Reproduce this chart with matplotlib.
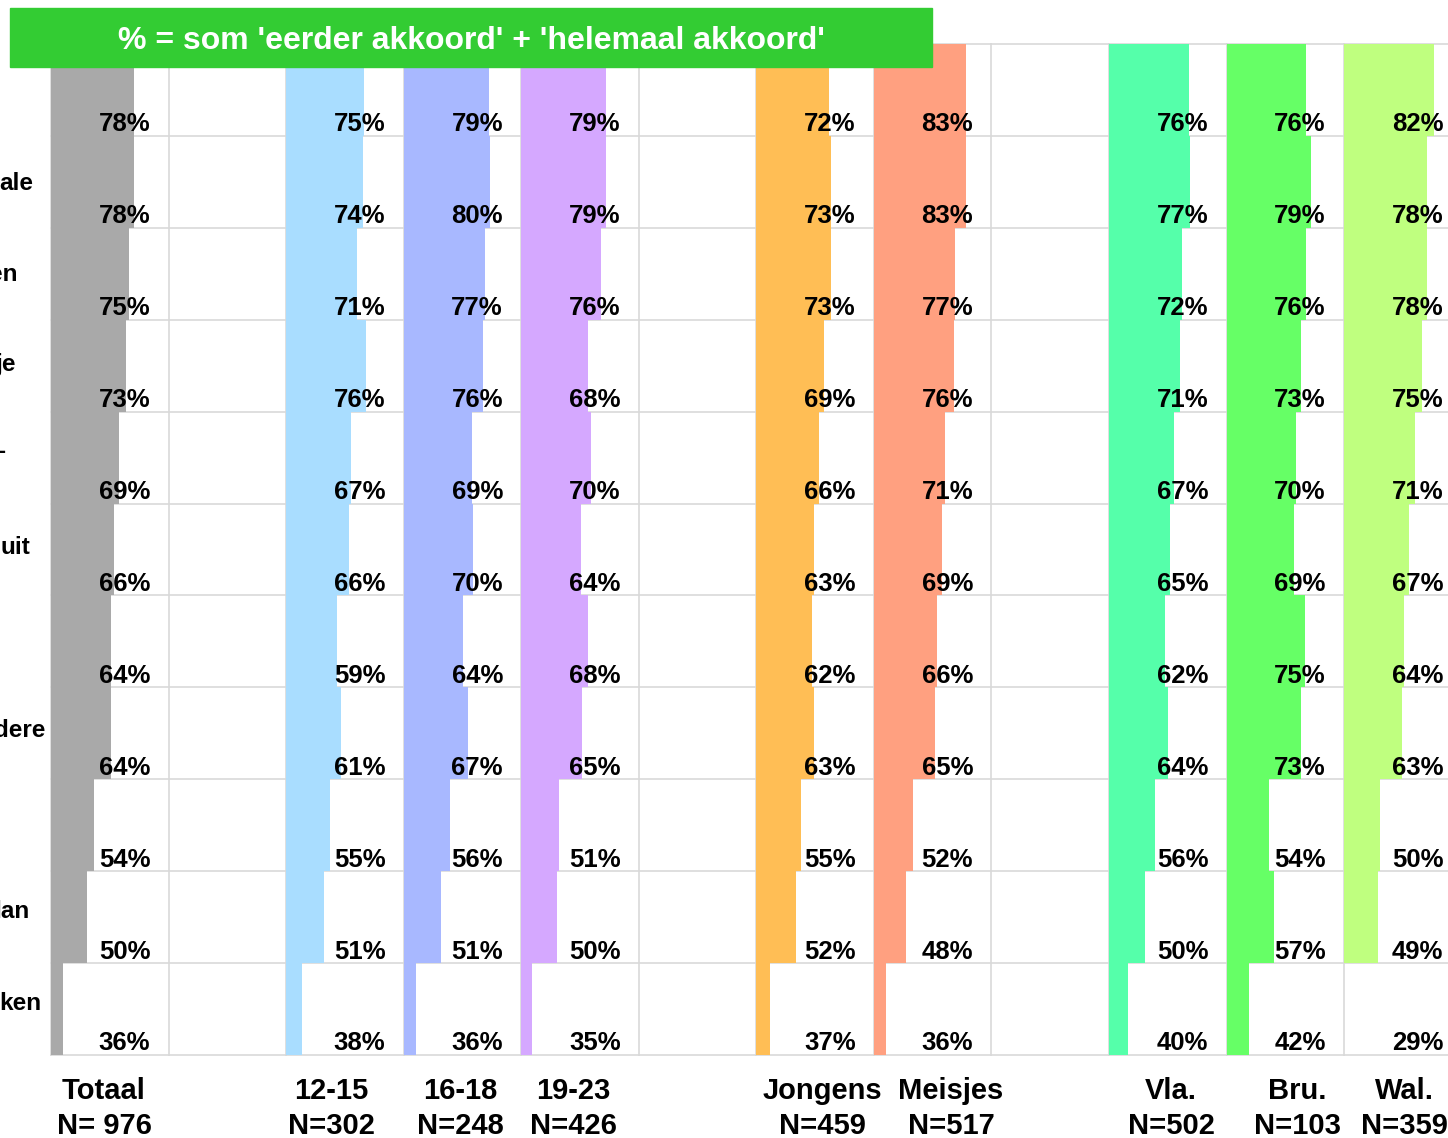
import matplotlib
matplotlib.use("Agg")
import matplotlib.pyplot as plt
from matplotlib.patches import Rectangle

plt.rcParams['font.family'] = ['Liberation Sans', 'DejaVu Sans']

# data: share "eerder akkoord" + "helemaal akkoord" per row (11 statements)
totaal = [78, 78, 75, 73, 69, 66, 64, 64, 54, 50, 36]
age_12_15 = [75, 74, 71, 76, 67, 66, 59, 61, 55, 51, 38]
age_16_18 = [79, 80, 77, 76, 69, 70, 64, 67, 56, 51, 36]
age_19_23 = [79, 79, 76, 68, 70, 64, 68, 65, 51, 50, 35]
jongens = [72, 73, 73, 69, 66, 63, 62, 63, 55, 52, 37]
meisjes = [83, 83, 77, 76, 71, 69, 66, 65, 52, 48, 36]
vla = [76, 77, 72, 71, 67, 65, 62, 64, 56, 50, 40]
bru = [76, 79, 76, 73, 70, 69, 75, 73, 54, 57, 42]
wal = [82, 78, 78, 75, 71, 67, 64, 63, 50, 49, 29]

group_names = ["Totaal", "12-15", "16-18", "19-23", "Jongens", "Meisjes", "Vla.", "Bru.", "Wal."]
group_n = ["N= 976", "N=302", "N=248", "N=426", "N=459", "N=517", "N=502", "N=103", "N=359"]
# visible (cut off) ends of the row labels
row_fragments = {1: "ale", 2: "en", 3: "je", 4: "-", 5: "uit", 7: "dere", 9: "lan", 10: "ken"}
title = "% = som 'eerder akkoord' + 'helemaal akkoord'"

# layout
W, H = 1448, 1138
fig = plt.figure(figsize=(W / 100, H / 100), dpi=100)
fx = lambda px: px / W
fy = lambda py: 1 - py / H

col_w = 117.55
left0, top, bottom = 51, 44, 1055
row_h = (bottom - top) / 11
XMIN, XMAX = 0.288, 0.983
grid_c = "#D9D9D9"

# None = empty spacer column
columns = [
    (totaal, "#A9A9A9"), None,
    (age_12_15, "#A9DDFF"), (age_16_18, "#A8B8FF"), (age_19_23, "#D5A8FF"), None,
    (jongens, "#FFBE55"), (meisjes, "#FFA080"), None,
    (vla, "#55FFAA"), (bru, "#66FF66"), (wal, "#BFFF7F"),
]
label_x = [104, 331, 460, 573, 822, 951, 1171, 1297, 1404]

rows = list(range(11))
for k, col in enumerate(columns):
    x0 = left0 + k * col_w
    ax = fig.add_axes([fx(x0), fy(bottom), col_w / W, (bottom - top) / H])
    ax.set_xlim(XMIN, XMAX)
    ax.set_ylim(11, 0)
    ax.axis("off")
    for y in range(12):
        ax.axhline(y, color=grid_c, lw=1.2, zorder=0, clip_on=False)
    ax.axvline(XMIN, color=grid_c, lw=1.2, zorder=0, clip_on=False)
    if col is None:
        continue
    vals, color = col
    ax.barh(rows, [v / 100 for v in vals], height=1, align="edge", color=color, zorder=2)
    for i, v in zip(rows, vals):
        ax.text(0.845, i + 1 - 4.5 / row_h, f"{v}%", transform=ax.get_yaxis_transform(),
                ha="right", va="baseline", fontsize=18.5, fontweight="bold", zorder=3)

# group labels below the columns
for name, n, x in zip(group_names, group_n, label_x):
    fig.text(fx(x), fy(1099), name, ha="center", va="baseline", fontsize=21, fontweight="bold")
    fig.text(fx(x), fy(1134), n, ha="center", va="baseline", fontsize=21, fontweight="bold")

# cut-off row labels at the left edge
frag_pos = {1: (33, 190), 2: (17, 281), 3: (16, 371), 4: (6, 458), 5: (30, 554),
            7: (45, 737), 9: (29, 918), 10: (41, 1010)}
for i, frag in row_fragments.items():
    px, py = frag_pos[i]
    fig.text(fx(px), fy(py), frag, ha="right", va="baseline", fontsize=17.5, fontweight="bold")

# green banner
fig.add_artist(Rectangle((fx(10), fy(67)), (932 - 10) / W, (67 - 8) / H,
                         transform=fig.transFigure, color="#33CC33", zorder=10))
fig.text(fx(471), fy(49), title, ha="center", va="baseline", fontsize=23,
         fontweight="bold", color="white", zorder=11)

fig.savefig("out.png", dpi=100)
